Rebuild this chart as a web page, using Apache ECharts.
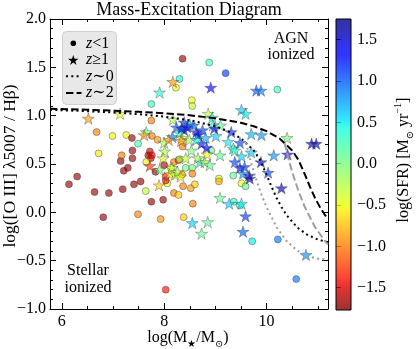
<!DOCTYPE html>
<html><head><meta charset="utf-8">
<script src="https://cdn.jsdelivr.net/npm/echarts@6/dist/echarts.min.js"></script>
<style>html,body{margin:0;padding:0;background:#fff}#c{width:416px;height:349px}</style>
</head><body><div id="c"></div>
<script>
// ---------- data ----------
const xMin = 5.77, xMax = 11.2, yMin = -1, yMax = 2;
const cbMin = -1.77, cbMax = 1.75;
const xMajorTicks = [6, 8, 10];
const xMinorTicks = [6, 6.5, 7, 7.5, 8, 8.5, 9, 9.5, 10, 10.5, 11];
const cbTicks = [-1.5, -1, -0.5, 0, 0.5, 1, 1.5];

// z<1 (circles): log M*, log OIII/Hb, log SFR
const circX = [8.36,8.30,8.23,7.75,8.54,8.55,7.75,8.88,9.20,10.21,6.68,6.99,7.26,7.37,7.49,7.76,7.87,7.38,7.15,7.29,7.21,7.72,7.69,7.76,7.74,7.17,6.72,7.38,7.65,8.00,8.19,8.28,8.36,8.42,8.55,8.55,8.06,8.35,7.54,7.41,7.19,6.92,6.64,6.14,6.30,7.64,7.75,7.98,8.19,8.28,8.56,8.37,8.52,8.60,6.81,7.49,7.93,8.38,8.03,9.72,10.22,10.58,9.35,9.07,9.07,9.51,9.59,9.36,9.48,8.92,7.83,8.03,8.03,8.13,8.30];
const circY = [1.59,1.38,1.29,1.12,1.16,1.10,0.95,1.55,1.44,1.27,0.83,0.79,0.80,0.77,0.71,0.79,0.75,0.64,0.53,0.46,0.43,0.63,0.59,0.59,0.56,0.59,0.61,0.56,0.52,0.49,0.52,0.54,0.68,0.46,0.46,0.40,0.30,0.39,0.32,0.29,0.24,0.20,0.21,0.29,0.37,0.22,0.11,0.13,0.20,0.18,0.09,0.27,0.25,0.29,-0.05,-0.02,-0.07,-0.05,-0.80,-0.30,-0.28,-0.69,0.38,0.35,0.32,0.30,0.27,0.11,0.07,0.64,0.42,0.37,0.33,0.46,0.55];
const circSFR = [-1.7,0.4,-0.5,0.3,-0.5,-0.3,-1.0,0.3,1.1,0.3,-1.0,-0.5,-0.5,-1.7,0.2,-1.0,-0.9,-1.7,-1.7,-1.7,-1.7,-1.5,-1.6,-1.4,-1.5,-1.0,-0.6,-1.7,-0.5,-1.6,-1.0,-1.3,-1.0,0.0,0.0,-1.0,-0.5,-0.9,-1.7,-1.7,-1.7,-1.7,-1.7,-1.7,-1.7,-0.3,-1.7,-1.7,-1.0,-0.7,-1.0,-1.0,-0.9,-0.7,-1.7,-1.0,-0.9,-0.7,-1.4,0.5,0.9,0.9,0.1,-0.4,-0.8,-0.5,0.1,0.3,0.3,0.1,-1.7,-1.3,-1.4,-0.5,-0.2];

// z>=1 (stars)
const starX = [8.17,7.91,6.52,7.14,8.17,8.39,8.24,8.39,8.63,8.75,7.65,7.61,8.91,9.80,9.89,9.51,9.59,8.86,8.94,9.10,8.95,9.31,9.70,9.90,10.40,9.01,10.88,10.97,9.25,9.35,9.38,9.48,9.09,9.51,9.70,9.89,10.14,10.41,9.38,9.48,9.57,9.54,9.66,9.67,10.03,10.29,9.09,9.27,9.51,9.59,8.55,8.85,8.73,9.54,10.77,7.90,8.84,8.73,8.83,8.70,8.79,8.89,8.16,8.00,8.09,8.35,8.49,8.66,8.01,7.98,7.72,8.53,8.42,8.66,7.91,8.11,8.21,8.15,8.26,8.32,8.98,8.50,8.30,8.81,8.33,8.63,8.34,8.45,8.57];
const starY = [1.35,1.24,0.97,1.02,0.96,0.93,0.88,0.85,0.83,0.85,0.83,0.80,1.29,1.26,1.26,1.06,1.02,1.02,0.98,0.90,0.90,0.83,0.81,0.80,0.77,0.79,0.71,0.71,0.73,0.66,0.64,0.72,0.59,0.58,0.62,0.52,0.59,0.60,0.52,0.46,0.47,0.40,0.38,0.35,0.41,0.25,0.15,0.09,0.09,-0.04,-0.11,-0.10,-0.22,-0.20,-0.44,0.28,0.60,0.71,0.67,0.52,0.52,0.49,0.78,0.72,0.75,0.77,0.75,0.80,0.63,0.56,0.48,0.64,0.56,0.56,0.44,0.40,0.39,0.46,0.42,0.37,0.87,0.91,0.82,0.77,0.74,0.75,0.87,0.88,0.90];
const starSFR = [-0.9,0.4,-0.9,-0.5,-0.2,1.1,1.0,1.2,1.3,1.1,0.1,-0.9,1.3,1.0,0.9,0.6,0.5,-0.3,0.5,0.1,0.3,1.2,0.7,0.8,0.0,0.6,1.6,1.6,0.5,0.4,0.3,1.1,0.1,0.6,0.6,1.5,0.8,1.4,1.1,1.3,1.1,0.8,1.6,1.6,1.1,1.6,0.1,0.6,0.5,1.1,0.6,0.1,0.1,1.0,0.8,-0.7,-0.5,1.2,1.3,0.5,-0.2,0.1,0.9,-0.2,-0.9,-0.5,-0.2,1.4,-0.2,-0.4,-1.3,0.0,-0.3,-0.2,0.0,-0.5,-0.5,-0.3,-0.2,-0.5,1.4,0.6,0.3,0.7,-0.9,0.5,1.2,1.3,1.0];

// demarcation curves
const z0UpX = [5.77,6.5,7,7.5,8,8.5,9,9.25,9.5,9.75,9.875,10,10.1,10.2,10.3,10.4,10.6,10.8,11.0,11.2];
const z0UpY = [1.061,1.046,1.033,1.015,0.99,0.953,0.89,0.84,0.765,0.64,0.54,0.39,0.262,0.145,0.047,-0.035,-0.157,-0.234,-0.281,-0.31];
const z0LoX = [9.6,9.7,9.8,9.9,10.0,10.2,10.4,10.6,10.8,11.0,11.2];
const z0LoY = [0.72,0.508,0.335,0.183,0.052,-0.157,-0.303,-0.396,-0.452,-0.48,-0.49];
const z2UpX = [5.77,6.5,7,7.5,8,8.5,9,9.5,9.75,10,10.25,10.5,10.625,10.75,10.85,10.95,11.05,11.15,11.2];
const z2UpY = [1.072,1.061,1.052,1.04,1.025,1.004,0.973,0.926,0.89,0.84,0.765,0.64,0.54,0.39,0.262,0.145,0.047,-0.035,-0.069];
const z2LoX = [10.35,10.45,10.55,10.65,10.75,10.95,11.15,11.2];
const z2LoY = [0.72,0.508,0.335,0.183,0.052,-0.157,-0.303,-0.331];

// ---------- helpers ----------
const FONT = '"Liberation Serif","DejaVu Serif",serif';
function lerpStops(t, s){ for(let i=1;i<s.length;i++){ if(t<=s[i][0]){ const a=s[i-1], b=s[i]; return a[1]+(b[1]-a[1])*(t-a[0])/(b[0]-a[0]); } } return s[s.length-1][1]; }
function jet(t, alpha){
  const r = lerpStops(t, [[0,0],[0.35,0],[0.66,1],[0.89,1],[1,0.5]]);
  const g = lerpStops(t, [[0,0],[0.125,0],[0.375,1],[0.64,1],[0.91,0],[1,0]]);
  const b = lerpStops(t, [[0,0.5],[0.11,1],[0.34,1],[0.65,0],[1,0]]);
  return 'rgba(' + Math.round(r*255) + ',' + Math.round(g*255) + ',' + Math.round(b*255) + ',' + alpha + ')';
}
const jetR = (t, a) => jet(1 - t, a);   // reversed jet: low = dark red, high = dark blue
const ALPHA = 0.8;
const N = 64;
const cmapColors = []; for (let i=0;i<=N;i++) cmapColors.push(jetR(i/N, ALPHA));
// gradient from top (max) to bottom (min)
const cbStops = []; for (let i=0;i<=N;i++) cbStops.push({offset: i/N, color: jetR(1 - i/N, ALPHA)});
function starPts(cx, cy, R){ const p=[]; for(let i=0;i<10;i++){ const a=-Math.PI/2+i*Math.PI/5; const r=(i%2)?0.381966*R:R; p.push([cx+r*Math.cos(a), cy+r*Math.sin(a)]);} return p; }
const STAR_D = 'M' + starPts(0,0,100).map(p=>p[0].toFixed(2)+' '+p[1].toFixed(2)).join('L') + 'Z';
const zip = (a,b) => a.map((v,i)=>[v,b[i]]);
const zip3 = (a,b,c) => a.map((v,i)=>[v,b[i],c[i]]);
const fmt = v => (v < 0 ? '\u2212' : '') + Math.abs(v).toFixed(1);

const chart = echarts.init(document.getElementById('c'), null, {renderer:'canvas'});
const tickStyle = {color:'#000', width:1};
const labelStyle = {fontFamily: FONT, fontSize: 16, color:'#000'};
const legRich = {i:{fontFamily:FONT, fontStyle:'italic', fontSize:16, fill:'#000'}, r:{fontFamily:FONT, fontSize:16, fill:'#000'}};

const option = {
  animation: false,
  grid: [
    {left:50, top:19, width:278, height:290, outerBoundsMode:'none', containLabel:false},
    {left:336, top:19, width:15, height:291, outerBoundsMode:'none', containLabel:false}
  ],
  xAxis: [
    {gridIndex:0, type:'value', min:xMin, max:xMax, position:'bottom',
     axisLine:{show:true, onZero:false, lineStyle:tickStyle},
     axisTick:{show:true, inside:true, length:6, customValues:xMajorTicks, lineStyle:tickStyle},
     axisLabel:Object.assign({customValues:xMajorTicks, margin:5, formatter:v=>String(v)}, labelStyle),
     splitLine:{show:false}},
    {gridIndex:0, type:'value', min:xMin, max:xMax, position:'bottom',
     axisLine:{show:false, onZero:false},
     axisTick:{show:true, inside:true, length:3, customValues:xMinorTicks, lineStyle:tickStyle},
     axisLabel:{show:false}, splitLine:{show:false}},
    {gridIndex:0, type:'value', min:xMin, max:xMax, position:'top',
     axisLine:{show:true, onZero:false, lineStyle:tickStyle},
     axisTick:{show:true, inside:true, length:6, customValues:xMajorTicks, lineStyle:tickStyle},
     axisLabel:{show:false}, splitLine:{show:false}},
    {gridIndex:0, type:'value', min:xMin, max:xMax, position:'top',
     axisLine:{show:false, onZero:false},
     axisTick:{show:true, inside:true, length:3, customValues:xMinorTicks, lineStyle:tickStyle},
     axisLabel:{show:false}, splitLine:{show:false}},
    {gridIndex:1, type:'value', min:0, max:1, show:false}
  ],
  yAxis: [
    {gridIndex:0, type:'value', min:yMin, max:yMax, interval:0.5, position:'left',
     axisLine:{show:true, onZero:false, lineStyle:tickStyle},
     axisTick:{show:true, inside:true, length:6, lineStyle:tickStyle},
     minorTick:{show:true, splitNumber:5, length:3, lineStyle:tickStyle},
     axisLabel:Object.assign({margin:4, formatter:fmt, showMinLabel:true, showMaxLabel:true}, labelStyle),
     splitLine:{show:false}, minorSplitLine:{show:false}},
    {gridIndex:0, type:'value', min:yMin, max:yMax, interval:0.5, position:'right',
     axisLine:{show:true, onZero:false, lineStyle:tickStyle},
     axisTick:{show:true, inside:true, length:6, lineStyle:tickStyle},
     minorTick:{show:true, splitNumber:5, length:3, lineStyle:tickStyle},
     axisLabel:{show:false}, splitLine:{show:false}, minorSplitLine:{show:false}},
    {gridIndex:1, type:'value', min:cbMin, max:cbMax, position:'right',
     axisLine:{show:false},
     axisTick:{show:true, inside:false, length:5, customValues:cbTicks, lineStyle:tickStyle},
     axisLabel:Object.assign({customValues:cbTicks, margin:6, formatter:fmt}, labelStyle),
     splitLine:{show:false}}
  ],
  visualMap: {type:'continuous', show:false, min:cbMin, max:cbMax, dimension:2, seriesIndex:[4,5], inRange:{color:cmapColors}},
  series: [
    {type:'line', name:'z~0 upper', xAxisIndex:0, yAxisIndex:0, data:zip(z0UpX,z0UpY), showSymbol:false, z:5,
     lineStyle:{color:'#000', width:2, type:[2,3.3], cap:'butt'}},
    {type:'line', name:'z~0 lower', xAxisIndex:0, yAxisIndex:0, data:zip(z0LoX,z0LoY), showSymbol:false, z:5,
     lineStyle:{color:'#9e9e9e', width:2, type:[2,3.3], cap:'butt'}},
    {type:'line', name:'z~2 upper', xAxisIndex:0, yAxisIndex:0, data:zip(z2UpX,z2UpY), showSymbol:false, z:5,
     lineStyle:{color:'#000', width:2, type:[7.4,3.2], cap:'butt'}},
    {type:'line', name:'z~2 lower', xAxisIndex:0, yAxisIndex:0, data:zip(z2LoX,z2LoY), showSymbol:false, z:5,
     lineStyle:{color:'#9e9e9e', width:2, type:[7.4,3.2], cap:'butt'}},
    {type:'scatter', name:'z<1', xAxisIndex:0, yAxisIndex:0, data:zip3(circX,circY,circSFR), symbol:'circle', symbolSize:7, z:3,
     itemStyle:{borderColor:'rgba(40,40,40,0.8)', borderWidth:0.6}},
    {type:'scatter', name:'z>=1', xAxisIndex:0, yAxisIndex:0, data:zip3(starX,starY,starSFR), symbol:'path://'+STAR_D, symbolKeepAspect:true, symbolSize:12, z:4,
     itemStyle:{borderColor:'rgba(40,40,40,0.8)', borderWidth:0.5}},
    {type:'custom', name:'colorbar', xAxisIndex:4, yAxisIndex:2, data:[[0, cbMin, 1, cbMax]], silent:true, clip:false,
     renderItem:(params, api)=>{
       const p0 = api.coord([api.value(0), api.value(3)]);
       const p1 = api.coord([api.value(2), api.value(1)]);
       return {type:'rect', shape:{x:p0[0], y:p0[1], width:p1[0]-p0[0], height:p1[1]-p0[1]},
               style:{fill:{type:'linear', x:0, y:0, x2:0, y2:1, colorStops:cbStops}, stroke:'#000', lineWidth:1}};
     }}
  ],
  graphic: [
    {type:'text', x:189, y:10, z:10, style:{text:'Mass-Excitation Diagram', font:'18px '+FONT, fill:'#000', align:'center', verticalAlign:'middle'}},
    {type:'text', x:188, y:338, z:10, style:{text:'{a|log(M}{s|\u2605}{a|/M}{s|\u2299}{a|)}', fill:'#000', align:'center', verticalAlign:'middle',
      rich:{a:{fontFamily:FONT, fontSize:16, lineHeight:22, fill:'#000'}, s:{fontFamily:FONT, fontSize:10, lineHeight:10, verticalAlign:'bottom', fill:'#000'}}}},
    {type:'text', x:10, y:166, rotation:Math.PI/2, z:10, style:{text:'log([O III] \u03bb5007 / H\u03b2)', font:'17.5px '+FONT, fill:'#000', align:'center', verticalAlign:'middle'}},
    {type:'text', x:404, y:160, rotation:Math.PI/2, z:10, style:{text:'{a|log(SFR) [M}{s|\u2299}{a| yr}{p|\u22121}{a|]}', fill:'#000', align:'center', verticalAlign:'middle',
      rich:{a:{fontFamily:FONT, fontSize:16, lineHeight:22, fill:'#000'}, s:{fontFamily:FONT, fontSize:10, lineHeight:10, verticalAlign:'bottom', fill:'#000'}, p:{fontFamily:FONT, fontSize:10, lineHeight:10, verticalAlign:'top', fill:'#000'}}}},
    {type:'text', x:291, y:39, z:10, style:{text:'AGN', font:'16px '+FONT, fill:'#000', align:'center', verticalAlign:'middle'}},
    {type:'text', x:291, y:55, z:10, style:{text:'ionized', font:'16px '+FONT, fill:'#000', align:'center', verticalAlign:'middle'}},
    {type:'text', x:88, y:271, z:10, style:{text:'Stellar', font:'16px '+FONT, fill:'#000', align:'center', verticalAlign:'middle'}},
    {type:'text', x:88, y:288, z:10, style:{text:'ionized', font:'16px '+FONT, fill:'#000', align:'center', verticalAlign:'middle'}},
    {type:'rect', z:20, shape:{x:62.5, y:31.5, width:54, height:73, r:4}, style:{fill:'rgba(229,229,229,0.9)', stroke:'#cfcfcf', lineWidth:1}},
    {type:'circle', z:21, shape:{cx:73.3, cy:43.3, r:2.8}, style:{fill:'#000'}},
    {type:'polygon', z:21, shape:{points:starPts(73.3, 60.5, 5.5)}, style:{fill:'#000'}},
    {type:'line', z:21, shape:{x1:66, y1:76.3, x2:81.5, y2:76.3}, style:{stroke:'#000', lineWidth:2, lineDash:[2,3.3]}},
    {type:'line', z:21, shape:{x1:66, y1:93, x2:81.5, y2:93}, style:{stroke:'#000', lineWidth:2, lineDash:[7.4,3.2]}},
    {type:'text', z:21, x:86, y:43.3, style:{text:'{i|z}{r|<1}', verticalAlign:'middle', rich:legRich}},
    {type:'text', z:21, x:86, y:60, style:{text:'{i|z}{r|\u22651}', verticalAlign:'middle', rich:legRich}},
    {type:'text', z:21, x:86, y:76.3, style:{text:'{i|z}{r|\u223c0}', verticalAlign:'middle', rich:legRich}},
    {type:'text', z:21, x:86, y:93, style:{text:'{i|z}{r|\u223c2}', verticalAlign:'middle', rich:legRich}}
  ]
};
chart.setOption(option);
</script></body></html>
